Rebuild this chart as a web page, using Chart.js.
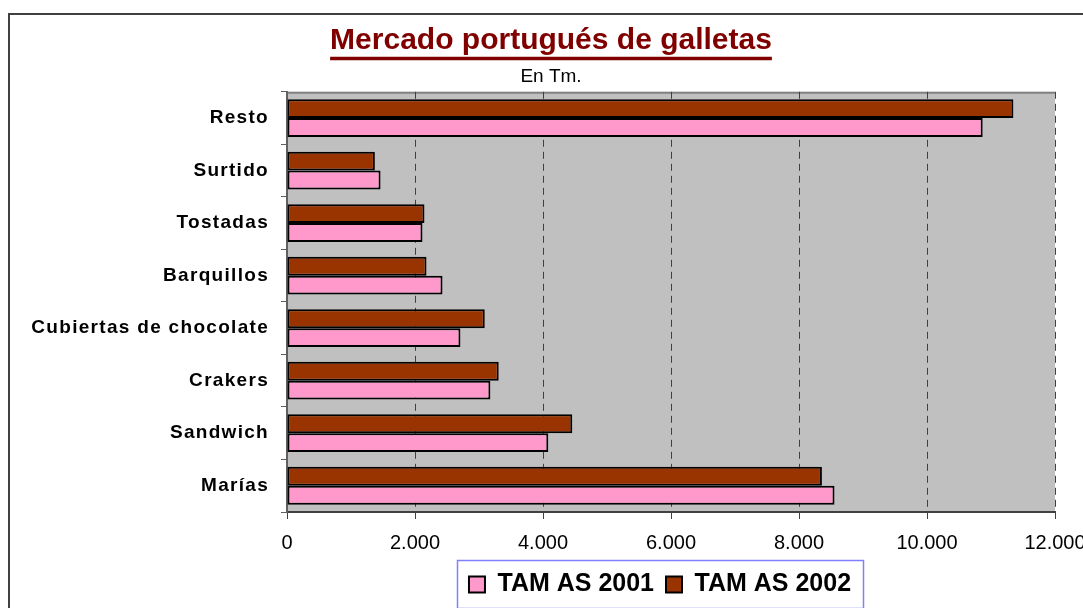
<!DOCTYPE html>
<html>
<head>
<meta charset="utf-8">
<script src="https://cdn.jsdelivr.net/npm/chart.js@4/dist/chart.umd.min.js"></script>
<style>
  html, body { margin: 0; padding: 0; background: #ffffff; overflow: hidden; width: 1083px; height: 608px; }
  #frame { position: absolute; left: 8px; top: 13px; width: 2000px; height: 2000px;
           border-left: 2px solid #404040; border-top: 2px solid #404040; }
  #wrap { position: absolute; left: 10px; top: 15px; width: 1090px; height: 593px; }
</style>
</head>
<body>
<div id="frame"></div>
<div id="wrap"><canvas id="c"></canvas></div>
<script>
// ---- data ----
const categories = ['Resto', 'Surtido', 'Tostadas', 'Barquillos', 'Cubiertas de chocolate', 'Crakers', 'Sandwich', 'Marías'];
const tam2001 = [10870, 1462, 2117, 2430, 2710, 3178, 4083, 8555];
const tam2002 = [11350, 1373, 2148, 2180, 3090, 3308, 4458, 8358];
const seriesNames = ['TAM AS 2001', 'TAM AS 2002'];
const xTickLabels = ['0', '2.000', '4.000', '6.000', '8.000', '10.000', '12.000'];
const titleText = 'Mercado portugués de galletas';
const subtitleText = 'En Tm.';

const FONT = '"Liberation Sans", Arial, Helvetica, sans-serif';
const PLOT_BOTTOM = 497;
const FRAME_W = 1082;
const TITLE_SIZE = 30;

const decor = {
  id: 'decor',
  beforeDraw(chart) {
    const {ctx, chartArea: a} = chart;
    ctx.save();
    ctx.fillStyle = '#c0c0c0';
    ctx.fillRect(a.left, a.top, a.right - a.left, a.bottom - a.top);
    ctx.strokeStyle = '#808080';
    ctx.lineWidth = 2;
    ctx.beginPath();
    ctx.moveTo(a.left, a.top + 1);
    ctx.lineTo(a.right, a.top + 1);
    ctx.stroke();
    ctx.restore();
  },
  afterLayout(chart) {
    const y = chart.scales.y;
    if (y && !y._ls) {
      const orig = y.drawLabels;
      y.drawLabels = function (area) {
        const c = this.ctx;
        c.save();
        c.letterSpacing = '1.3px';
        orig.call(this, area);
        c.restore();
      };
      y._ls = true;
    }
  },
  afterUpdate(chart) {
    // centre title and subtitle over the visible frame
    chart.boxes.forEach(b => {
      if (b.options && (b.options.text === titleText || b.options.text === subtitleText)) {
        b.left = 0; b.right = FRAME_W; b.width = FRAME_W;
      }
    });
    const lg = chart.legend;
    if (lg) {
      lg.left = 350; lg.right = 950; lg.width = 600;
      lg.top = 545; lg.bottom = 592; lg.height = 47;
      if (lg.adjustHitBoxes) lg.adjustHitBoxes();
    }
  },
  afterDraw(chart) {
    const ctx = chart.ctx;
    ctx.save();
    // legend frame
    ctx.strokeStyle = '#7f7fff';
    ctx.lineWidth = 1.5;
    ctx.strokeRect(447.5, 545.5, 406, 48);
    // title underline
    ctx.font = 'bold ' + TITLE_SIZE + 'px ' + FONT;
    const w = ctx.measureText(titleText).width;
    const cx = FRAME_W / 2;
    ctx.strokeStyle = '#800000';
    ctx.lineWidth = 3.5;
    ctx.beginPath();
    ctx.moveTo(cx - w / 2, 43.5);
    ctx.lineTo(cx + w / 2, 43.5);
    ctx.stroke();
    ctx.restore();
  }
};

new Chart(document.getElementById('c'), {
  type: 'bar',
  data: {
    labels: categories,
    datasets: [
      { label: seriesNames[1], data: tam2002, backgroundColor: '#993300', borderColor: '#000000',
        borderWidth: 2, borderSkipped: false },
      { label: seriesNames[0], data: tam2001, backgroundColor: '#ff99cc', borderColor: '#000000',
        borderWidth: 2, borderSkipped: false }
    ]
  },
  plugins: [decor],
  options: {
    indexAxis: 'y',
    responsive: true,
    maintainAspectRatio: false,
    animation: false,
    devicePixelRatio: 1,
    categoryPercentage: 0.72,
    barPercentage: 1.0,
    layout: { padding: { left: 0, right: 45, top: 0, bottom: 0 } },
    plugins: {
      title: {
        display: true, text: titleText, color: '#800000',
        font: { family: FONT, size: TITLE_SIZE, weight: 'bold', lineHeight: 1.2 },
        padding: { top: 8, bottom: 0 }
      },
      subtitle: {
        display: true, text: subtitleText, color: '#000000',
        font: { family: FONT, size: 19, weight: 'normal', lineHeight: 1.2 },
        padding: { top: 6, bottom: 4 }
      },
      legend: {
        display: true, position: 'bottom', reverse: true,
        labels: {
          color: '#000000', boxWidth: 16, boxHeight: 16, padding: 12,
          font: { family: FONT, size: 25, weight: 'bold' }
        }
      },
      tooltip: { enabled: false }
    },
    scales: {
      x: {
        min: 0, max: 12000,
        ticks: {
          stepSize: 2000, color: '#000000', padding: 12,
          font: { family: FONT, size: 20 },
          callback: (v, i) => xTickLabels[i]
        },
        grid: { color: '#404040', lineWidth: 1, tickLength: 7, tickBorderDash: [], tickColor: '#404040' },
        border: { display: true, color: '#404040', width: 2, dash: [7, 5] },
        afterFit(scale) {
          const lh = scale.chart.legend ? scale.chart.legend.height : 0;
          scale.height = scale.chart.height - PLOT_BOTTOM - lh;
        }
      },
      y: {
        ticks: {
          color: '#000000', padding: 12, autoSkip: false,
          font: { family: FONT, size: 19, weight: 'bold' }
        },
        grid: { display: true, drawOnChartArea: false, offset: true, tickLength: 6, color: '#606060' },
        border: { display: true, color: '#606060', width: 2 },
        afterFit(scale) { scale.width = 277; }
      }
    }
  }
});
</script>
</body>
</html>
